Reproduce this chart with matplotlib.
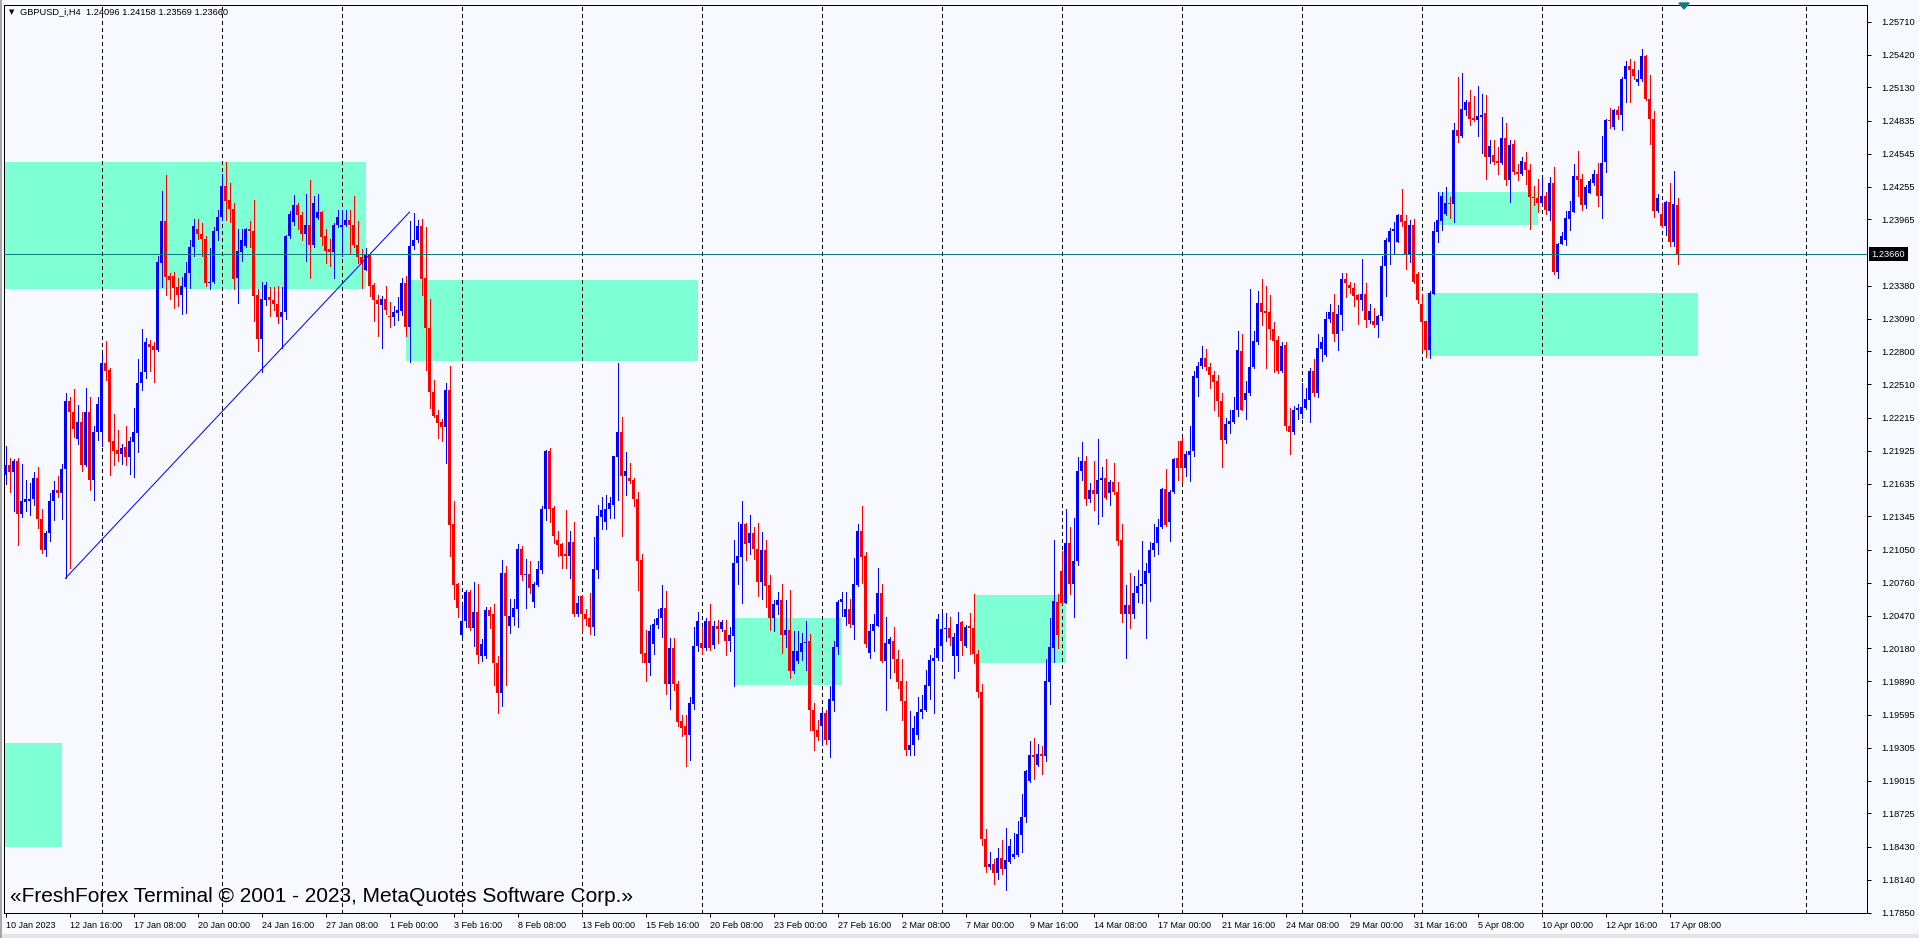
import numpy as np
import matplotlib
matplotlib.use("Agg")
import matplotlib.pyplot as plt
from matplotlib.patches import Rectangle, Polygon
from matplotlib.transforms import blended_transform_factory

plt.rcParams['font.family'] = ['Liberation Sans', 'DejaVu Sans']
plt.rcParams['lines.scale_dashes'] = False

# GBPUSD H4 candles, 10 Jan 2023 00:00 .. 17 Apr 2023 (one value per bar)
opens = [
    1.2171, 1.2180, 1.2174, 1.2183, 1.2137, 1.2147, 1.2148, 1.2150, 1.2168, 1.2132,
    1.2105, 1.2120, 1.2148, 1.2158, 1.2155, 1.2176, 1.2236, 1.2227, 1.2203, 1.2218,
    1.2180, 1.2227, 1.2167, 1.2209, 1.2209, 1.2270, 1.2264, 1.2201, 1.2193, 1.2190,
    1.2196, 1.2187, 1.2200, 1.2208, 1.2252, 1.2262, 1.2287, 1.2285, 1.2281, 1.2358,
    1.2395, 1.2347, 1.2347, 1.2337, 1.2330, 1.2337, 1.2349, 1.2372, 1.2388, 1.2384,
    1.2379, 1.2340, 1.2341, 1.2386, 1.2399, 1.2426, 1.2414, 1.2406, 1.2345, 1.2368,
    1.2373, 1.2388, 1.2386, 1.2330, 1.2291, 1.2325, 1.2328, 1.2325, 1.2322, 1.2310,
    1.2315, 1.2382, 1.2394, 1.2409, 1.2400, 1.2384, 1.2392, 1.2374, 1.2398, 1.2403,
    1.2382, 1.2370, 1.2368, 1.2392, 1.2390, 1.2392, 1.2396, 1.2392, 1.2374, 1.2363,
    1.2352, 1.2366, 1.2339, 1.2325, 1.2321, 1.2326, 1.2311, 1.2310, 1.2314, 1.2316,
    1.2340, 1.2302, 1.2373, 1.2378, 1.2391, 1.2345, 1.2301, 1.2244, 1.2224, 1.2218,
    1.2213, 1.2246, 1.2128, 1.2075, 1.2030, 1.2042, 1.2068, 1.2036, 1.2050, 1.2011,
    1.2011, 1.2052, 1.2048, 1.2005, 1.1979, 1.2085, 1.2038, 1.2046, 1.2053, 1.2106,
    1.2083, 1.2084, 1.2059, 1.2074, 1.2087, 1.2141, 1.2192, 1.2142, 1.2114, 1.2110,
    1.2101, 1.2100, 1.2112, 1.2048, 1.2064, 1.2048, 1.2045, 1.2037, 1.2087, 1.2134,
    1.2130, 1.2141, 1.2145, 1.2187, 1.2209, 1.2170, 1.2168, 1.2167, 1.2150, 1.2096,
    1.2014, 1.2005, 1.2022, 1.2039, 1.2045, 1.2054, 1.1987, 1.2018, 1.1987, 1.1954,
    1.1950, 1.1942, 1.1969, 1.2020, 1.2023, 1.2018, 1.2042, 1.2021, 1.2038, 1.2035,
    1.2034, 1.2025, 1.2029, 1.2093, 1.2099, 1.2128, 1.2111, 1.2120, 1.2106, 1.2077,
    1.2105, 1.2074, 1.2045, 1.2056, 1.2061, 1.2030, 1.2034, 1.1998, 1.2007, 1.2015,
    1.2023, 1.2025, 1.1964, 1.1946, 1.1950, 1.1961, 1.1937, 1.1972, 1.2019, 1.2059,
    1.2046, 1.2053, 1.2039, 1.2074, 1.2122, 1.2100, 1.2014, 1.2033, 1.2038, 1.2067,
    1.2007, 1.2022, 1.2025, 1.2009, 1.1989, 1.1972, 1.1928, 1.1933, 1.1942, 1.1962,
    1.1964, 1.1985, 1.2007, 1.2010, 1.2020, 1.2035, 1.2036, 1.2011, 1.2011, 1.2041,
    1.2020, 1.2038, 1.2036, 1.2013, 1.1980, 1.1850, 1.1825, 1.1828, 1.1820, 1.1833,
    1.1823, 1.1830, 1.1834, 1.1836, 1.1853, 1.1869, 1.1901, 1.1924, 1.1915, 1.1925,
    1.1923, 1.1988, 1.2018, 1.2059, 1.2086, 1.2058, 1.2111, 1.2075, 1.2095, 1.2175,
    1.2183, 1.2150, 1.2158, 1.2154, 1.2167, 1.2168, 1.2155, 1.2165, 1.2156, 1.2114,
    1.2048, 1.2056, 1.2048, 1.2067, 1.2073, 1.2075, 1.2085, 1.2105, 1.2111, 1.2125,
    1.2159, 1.2130, 1.2156, 1.2186, 1.2201, 1.2177, 1.2189, 1.2192, 1.2257, 1.2267,
    1.2274, 1.2266, 1.2259, 1.2254, 1.2236, 1.2202, 1.2216, 1.2218, 1.2228, 1.2280,
    1.2237, 1.2243, 1.2266, 1.2288, 1.2323, 1.2316, 1.2315, 1.2300, 1.2290, 1.2263,
    1.2286, 1.2214, 1.2209, 1.2228, 1.2225, 1.2230, 1.2237, 1.2263, 1.2243, 1.2282,
    1.2277, 1.2309, 1.2315, 1.2295, 1.2312, 1.2344, 1.2339, 1.2336, 1.2330, 1.2325,
    1.2331, 1.2308, 1.2307, 1.2303, 1.2311, 1.2355, 1.2377, 1.2386, 1.2377, 1.2400,
    1.2395, 1.2366, 1.2392, 1.2348, 1.2322, 1.2307, 1.2281, 1.2331, 1.2385, 1.2395,
    1.2401, 1.2411, 1.2410, 1.2475, 1.2470, 1.2493, 1.2500, 1.2486, 1.2484, 1.2487,
    1.2490, 1.2452, 1.2453, 1.2448, 1.2446, 1.2468, 1.2431, 1.2463, 1.2438, 1.2437,
    1.2447, 1.2440, 1.2416, 1.2415, 1.2411, 1.2417, 1.2404, 1.2429, 1.2350, 1.2375,
    1.2378, 1.2397, 1.2403, 1.2435, 1.2432, 1.2409, 1.2420, 1.2429, 1.2437, 1.2417,
    1.2447, 1.2484, 1.2478, 1.2493, 1.2489, 1.2520, 1.2532, 1.2529, 1.2518, 1.2520,
    1.2541, 1.2503, 1.2485, 1.2404, 1.2401, 1.2391, 1.2412, 1.2377, 1.24096,
]
highs = [
    1.2197, 1.2186, 1.2185, 1.2186, 1.2181, 1.2167, 1.2164, 1.2174, 1.2178, 1.2141,
    1.2122, 1.2155, 1.2166, 1.2170, 1.2181, 1.2243, 1.2240, 1.2247, 1.2233, 1.2227,
    1.2248, 1.2240, 1.2214, 1.2240, 1.2278, 1.2289, 1.2265, 1.2225, 1.2211, 1.2198,
    1.2214, 1.2205, 1.2230, 1.2273, 1.2300, 1.2292, 1.2290, 1.2288, 1.2364, 1.2422,
    1.2436, 1.2349, 1.2350, 1.2345, 1.2346, 1.2359, 1.2378, 1.2397, 1.2397, 1.2393,
    1.2382, 1.2371, 1.2390, 1.2405, 1.2437, 1.2447, 1.2429, 1.2411, 1.2388, 1.2388,
    1.2389, 1.2395, 1.2414, 1.2335, 1.2341, 1.2341, 1.2337, 1.2337, 1.2338, 1.2337,
    1.2383, 1.2404, 1.2418, 1.2411, 1.2403, 1.2419, 1.2431, 1.2417, 1.2419, 1.2404,
    1.2388, 1.2379, 1.2393, 1.2405, 1.2405, 1.2405, 1.2405, 1.2417, 1.2395, 1.2370,
    1.2371, 1.2367, 1.2340, 1.2330, 1.2329, 1.2338, 1.2324, 1.2320, 1.2328, 1.2345,
    1.2347, 1.2395, 1.2402, 1.2396, 1.2397, 1.2390, 1.2326, 1.2255, 1.2228, 1.2220,
    1.2252, 1.2267, 1.2148, 1.2076, 1.2056, 1.2070, 1.2070, 1.2077, 1.2075, 1.2026,
    1.2055, 1.2055, 1.2057, 1.2011, 1.2096, 1.2091, 1.2062, 1.2062, 1.2110, 1.2108,
    1.2097, 1.2095, 1.2077, 1.2095, 1.2144, 1.2193, 1.2195, 1.2144, 1.2122, 1.2111,
    1.2140, 1.2122, 1.2130, 1.2064, 1.2065, 1.2053, 1.2067, 1.2116, 1.2145, 1.2152,
    1.2153, 1.2152, 1.2188, 1.2270, 1.2222, 1.2191, 1.2182, 1.2168, 1.2156, 1.2101,
    1.2034, 1.2039, 1.2044, 1.2053, 1.2074, 1.2069, 1.2027, 1.2027, 1.1989, 1.1959,
    1.1959, 1.1975, 1.2037, 1.2050, 1.2037, 1.2045, 1.2057, 1.2042, 1.2043, 1.2043,
    1.2043, 1.2037, 1.2114, 1.2130, 1.2148, 1.2129, 1.2136, 1.2125, 1.2129, 1.2121,
    1.2114, 1.2083, 1.2061, 1.2068, 1.2075, 1.2061, 1.2070, 1.2033, 1.2033, 1.2032,
    1.2042, 1.2031, 1.1970, 1.1955, 1.1963, 1.1964, 1.1985, 1.2025, 1.2061, 1.2068,
    1.2068, 1.2062, 1.2098, 1.2128, 1.2144, 1.2103, 1.2040, 1.2048, 1.2089, 1.2075,
    1.2046, 1.2028, 1.2037, 1.2017, 1.2009, 1.1989, 1.1963, 1.1958, 1.1975, 1.1977,
    1.1999, 1.2012, 1.2018, 1.2048, 1.2049, 1.2049, 1.2046, 1.2032, 1.2050, 1.2042,
    1.2039, 1.2049, 1.2066, 1.2017, 1.1987, 1.1859, 1.1838, 1.1832, 1.1842, 1.1849,
    1.1860, 1.1850, 1.1855, 1.1866, 1.1890, 1.1911, 1.1936, 1.1939, 1.1934, 1.1932,
    1.2009, 1.2045, 1.2114, 1.2066, 1.2104, 1.2141, 1.2125, 1.2133, 1.2187, 1.2200,
    1.2188, 1.2164, 1.2183, 1.2203, 1.2178, 1.2185, 1.2167, 1.2182, 1.2165, 1.2128,
    1.2074, 1.2085, 1.2082, 1.2087, 1.2113, 1.2093, 1.2112, 1.2128, 1.2132, 1.2160,
    1.2176, 1.2158, 1.2186, 1.2201, 1.2205, 1.2192, 1.2214, 1.2263, 1.2271, 1.2285,
    1.2282, 1.2270, 1.2263, 1.2259, 1.2243, 1.2221, 1.2228, 1.2240, 1.2298, 1.2295,
    1.2254, 1.2335, 1.2298, 1.2333, 1.2344, 1.2338, 1.2330, 1.2306, 1.2294, 1.2288,
    1.2288, 1.2230, 1.2232, 1.2234, 1.2252, 1.2248, 1.2265, 1.2273, 1.2295, 1.2293,
    1.2315, 1.2322, 1.2331, 1.2321, 1.2349, 1.2349, 1.2341, 1.2340, 1.2331, 1.2362,
    1.2340, 1.2322, 1.2318, 1.2312, 1.2364, 1.2380, 1.2389, 1.2394, 1.2401, 1.2423,
    1.2400, 1.2396, 1.2397, 1.2350, 1.2331, 1.2307, 1.2333, 1.2394, 1.2421, 1.2421,
    1.2425, 1.2416, 1.2482, 1.2522, 1.2526, 1.2502, 1.2511, 1.2505, 1.2514, 1.2507,
    1.2506, 1.2467, 1.2467, 1.2460, 1.2487, 1.2482, 1.2467, 1.2467, 1.2445, 1.2452,
    1.2456, 1.2445, 1.2426, 1.2432, 1.2434, 1.2421, 1.2434, 1.2443, 1.2376, 1.2385,
    1.2404, 1.2413, 1.2445, 1.2457, 1.2437, 1.2427, 1.2432, 1.2440, 1.2446, 1.2470,
    1.2485, 1.2495, 1.2494, 1.2497, 1.2522, 1.2536, 1.2538, 1.2536, 1.2528, 1.2547,
    1.2542, 1.2524, 1.2492, 1.2419, 1.2410, 1.2413, 1.2429, 1.2439, 1.24158,
]
lows = [
    1.2163, 1.2156, 1.2139, 1.2109, 1.2134, 1.2139, 1.2136, 1.2145, 1.2124, 1.2102,
    1.2100, 1.2113, 1.2131, 1.2152, 1.2132, 1.2080, 1.2089, 1.2205, 1.2198, 1.2175,
    1.2179, 1.2158, 1.2149, 1.2202, 1.2197, 1.2255, 1.2171, 1.2180, 1.2183, 1.2181,
    1.2180, 1.2172, 1.2169, 1.2191, 1.2246, 1.2257, 1.2263, 1.2253, 1.2280, 1.2337,
    1.2330, 1.2326, 1.2318, 1.2320, 1.2313, 1.2314, 1.2336, 1.2364, 1.2379, 1.2364,
    1.2338, 1.2335, 1.2340, 1.2378, 1.2396, 1.2396, 1.2394, 1.2335, 1.2323, 1.2360,
    1.2372, 1.2372, 1.2307, 1.2280, 1.2262, 1.2321, 1.2311, 1.2317, 1.2305, 1.2283,
    1.2309, 1.2380, 1.2392, 1.2388, 1.2378, 1.2360, 1.2345, 1.2372, 1.2397, 1.2374,
    1.2358, 1.2355, 1.2345, 1.2390, 1.2364, 1.2391, 1.2367, 1.2372, 1.2358, 1.2336,
    1.2352, 1.2329, 1.2307, 1.2294, 1.2283, 1.2313, 1.2302, 1.2303, 1.2308, 1.2312,
    1.2294, 1.2271, 1.2370, 1.2377, 1.2330, 1.2264, 1.2230, 1.2222, 1.2204, 1.2201,
    1.2182, 1.2100, 1.2062, 1.2046, 1.2028, 1.2037, 1.2034, 1.2020, 1.2005, 1.2007,
    1.2010, 1.2036, 1.1986, 1.1961, 1.1967, 1.1986, 1.2032, 1.2039, 1.2037, 1.2078,
    1.2054, 1.2067, 1.2055, 1.2073, 1.2085, 1.2131, 1.2130, 1.2111, 1.2100, 1.2089,
    1.2089, 1.2080, 1.2047, 1.2047, 1.2033, 1.2039, 1.2031, 1.2030, 1.2080, 1.2123,
    1.2123, 1.2133, 1.2133, 1.2149, 1.2117, 1.2153, 1.2164, 1.2144, 1.2070, 1.2006,
    1.1989, 1.1995, 1.2013, 1.2036, 1.2028, 1.1978, 1.1965, 1.1981, 1.1950, 1.1941,
    1.1914, 1.1920, 1.1965, 1.2016, 1.2013, 1.2017, 1.2017, 1.2018, 1.2023, 1.2033,
    1.2012, 1.2016, 1.1985, 1.2075, 1.2058, 1.2096, 1.2101, 1.2097, 1.2064, 1.2062,
    1.2055, 1.2034, 1.2033, 1.2048, 1.2014, 1.2019, 1.1992, 1.1996, 1.2005, 1.2008,
    1.1999, 1.1946, 1.1928, 1.1937, 1.1934, 1.1934, 1.1922, 1.1963, 1.2013, 1.2047,
    1.2039, 1.2037, 1.2026, 1.2073, 1.2076, 1.2019, 1.2010, 1.2016, 1.2038, 1.2006,
    1.1964, 1.1992, 1.1997, 1.1983, 1.1955, 1.1924, 1.1924, 1.1924, 1.1938, 1.1957,
    1.1963, 1.1973, 1.1961, 1.2008, 1.2008, 1.2025, 1.2021, 1.1992, 1.1998, 1.2012,
    1.2019, 1.2013, 1.2005, 1.1975, 1.1845, 1.1821, 1.1823, 1.1810, 1.1815, 1.1819,
    1.1805, 1.1829, 1.1833, 1.1835, 1.1838, 1.1865, 1.1900, 1.1903, 1.1914, 1.1907,
    1.1919, 1.1969, 1.2006, 1.2018, 1.2057, 1.2058, 1.2066, 1.2046, 1.2092, 1.2167,
    1.2145, 1.2147, 1.2140, 1.2128, 1.2135, 1.2150, 1.2145, 1.2154, 1.2109, 1.2041,
    1.2010, 1.2036, 1.2045, 1.2059, 1.2058, 1.2027, 1.2060, 1.2100, 1.2101, 1.2124,
    1.2126, 1.2113, 1.2155, 1.2167, 1.2165, 1.2170, 1.2166, 1.2188, 1.2241, 1.2265,
    1.2264, 1.2248, 1.2228, 1.2223, 1.2178, 1.2199, 1.2208, 1.2217, 1.2223, 1.2228,
    1.2220, 1.2242, 1.2265, 1.2287, 1.2303, 1.2265, 1.2291, 1.2262, 1.2261, 1.2262,
    1.2211, 1.2190, 1.2207, 1.2220, 1.2221, 1.2229, 1.2218, 1.2241, 1.2240, 1.2272,
    1.2276, 1.2306, 1.2289, 1.2281, 1.2299, 1.2328, 1.2332, 1.2320, 1.2304, 1.2317,
    1.2302, 1.2305, 1.2302, 1.2293, 1.2308, 1.2329, 1.2357, 1.2366, 1.2377, 1.2391,
    1.2353, 1.2359, 1.2340, 1.2323, 1.2281, 1.2275, 1.2274, 1.2331, 1.2377, 1.2387,
    1.2400, 1.2398, 1.2394, 1.2465, 1.2469, 1.2489, 1.2480, 1.2483, 1.2470, 1.2455,
    1.2432, 1.2446, 1.2445, 1.2437, 1.2445, 1.2427, 1.2412, 1.2437, 1.2431, 1.2436,
    1.2428, 1.2388, 1.2409, 1.2403, 1.2410, 1.2401, 1.2396, 1.2348, 1.2345, 1.2375,
    1.2374, 1.2387, 1.2403, 1.2417, 1.2405, 1.2407, 1.2420, 1.2427, 1.2408, 1.2398,
    1.2438, 1.2477, 1.2476, 1.2485, 1.2475, 1.2500, 1.2500, 1.2520, 1.2515, 1.2519,
    1.2502, 1.2463, 1.2399, 1.2403, 1.2390, 1.2383, 1.2373, 1.2373, 1.23569,
]
closes = [
    1.2180, 1.2174, 1.2183, 1.2137, 1.2148, 1.2150, 1.2150, 1.2168, 1.2132, 1.2105,
    1.2120, 1.2148, 1.2158, 1.2155, 1.2176, 1.2236, 1.2227, 1.2212, 1.2218, 1.2180,
    1.2227, 1.2167, 1.2209, 1.2234, 1.2270, 1.2263, 1.2200, 1.2192, 1.2190, 1.2195,
    1.2187, 1.2201, 1.2209, 1.2252, 1.2262, 1.2288, 1.2284, 1.2281, 1.2359, 1.2395,
    1.2346, 1.2343, 1.2336, 1.2330, 1.2338, 1.2349, 1.2372, 1.2391, 1.2384, 1.2379,
    1.2340, 1.2341, 1.2386, 1.2399, 1.2426, 1.2413, 1.2406, 1.2344, 1.2369, 1.2378,
    1.2388, 1.2386, 1.2329, 1.2291, 1.2326, 1.2339, 1.2325, 1.2322, 1.2310, 1.2315,
    1.2382, 1.2401, 1.2409, 1.2400, 1.2384, 1.2392, 1.2374, 1.2411, 1.2403, 1.2381,
    1.2369, 1.2368, 1.2392, 1.2399, 1.2392, 1.2396, 1.2392, 1.2374, 1.2363, 1.2358,
    1.2366, 1.2338, 1.2325, 1.2322, 1.2326, 1.2317, 1.2310, 1.2315, 1.2317, 1.2340,
    1.2302, 1.2373, 1.2378, 1.2391, 1.2344, 1.2301, 1.2244, 1.2223, 1.2217, 1.2213,
    1.2246, 1.2127, 1.2074, 1.2054, 1.2042, 1.2068, 1.2036, 1.2050, 1.2012, 1.2022,
    1.2052, 1.2047, 1.2005, 1.1979, 1.2085, 1.2047, 1.2047, 1.2054, 1.2106, 1.2083,
    1.2084, 1.2071, 1.2075, 1.2088, 1.2141, 1.2192, 1.2141, 1.2117, 1.2109, 1.2100,
    1.2100, 1.2112, 1.2048, 1.2058, 1.2048, 1.2044, 1.2037, 1.2088, 1.2135, 1.2140,
    1.2141, 1.2146, 1.2188, 1.2209, 1.2170, 1.2175, 1.2166, 1.2150, 1.2095, 1.2013,
    1.2005, 1.2033, 1.2040, 1.2045, 1.2054, 1.1987, 1.2018, 1.1987, 1.1953, 1.1948,
    1.1942, 1.1970, 1.2020, 1.2042, 1.2018, 1.2042, 1.2018, 1.2038, 1.2035, 1.2041,
    1.2025, 1.2030, 1.2093, 1.2100, 1.2128, 1.2110, 1.2120, 1.2106, 1.2077, 1.2105,
    1.2073, 1.2045, 1.2057, 1.2061, 1.2030, 1.2034, 1.1998, 1.2016, 1.2016, 1.2023,
    1.2024, 1.1964, 1.1945, 1.1940, 1.1961, 1.1937, 1.1973, 1.2019, 1.2059, 1.2062,
    1.2053, 1.2040, 1.2075, 1.2122, 1.2099, 1.2022, 1.2033, 1.2040, 1.2067, 1.2007,
    1.2023, 1.2026, 1.2009, 1.1988, 1.1972, 1.1928, 1.1933, 1.1948, 1.1962, 1.1965,
    1.1986, 1.2008, 1.2010, 1.2044, 1.2035, 1.2036, 1.2027, 1.2028, 1.2040, 1.2025,
    1.2037, 1.2036, 1.2013, 1.1980, 1.1850, 1.1825, 1.1828, 1.1820, 1.1833, 1.1823,
    1.1831, 1.1844, 1.1837, 1.1854, 1.1869, 1.1910, 1.1924, 1.1922, 1.1925, 1.1923,
    1.1989, 1.2019, 1.2060, 1.2030, 1.2058, 1.2111, 1.2075, 1.2095, 1.2175, 1.2183,
    1.2150, 1.2158, 1.2154, 1.2167, 1.2168, 1.2151, 1.2165, 1.2156, 1.2113, 1.2048,
    1.2056, 1.2048, 1.2067, 1.2073, 1.2075, 1.2086, 1.2105, 1.2111, 1.2125, 1.2159,
    1.2127, 1.2156, 1.2185, 1.2177, 1.2177, 1.2190, 1.2192, 1.2258, 1.2267, 1.2274,
    1.2266, 1.2259, 1.2253, 1.2236, 1.2202, 1.2216, 1.2219, 1.2228, 1.2281, 1.2228,
    1.2243, 1.2266, 1.2289, 1.2323, 1.2315, 1.2314, 1.2300, 1.2289, 1.2263, 1.2285,
    1.2214, 1.2209, 1.2228, 1.2230, 1.2231, 1.2238, 1.2263, 1.2243, 1.2283, 1.2288,
    1.2309, 1.2315, 1.2295, 1.2313, 1.2344, 1.2340, 1.2336, 1.2329, 1.2325, 1.2331,
    1.2308, 1.2316, 1.2303, 1.2311, 1.2355, 1.2378, 1.2386, 1.2388, 1.2400, 1.2394,
    1.2366, 1.2392, 1.2341, 1.2325, 1.2306, 1.2281, 1.2332, 1.2386, 1.2396, 1.2417,
    1.2411, 1.2410, 1.2475, 1.2470, 1.2494, 1.2500, 1.2485, 1.2484, 1.2488, 1.2489,
    1.2452, 1.2461, 1.2447, 1.2446, 1.2468, 1.2431, 1.2462, 1.2438, 1.2437, 1.2448,
    1.2440, 1.2416, 1.2415, 1.2411, 1.2417, 1.2405, 1.2429, 1.2350, 1.2375, 1.2382,
    1.2398, 1.2404, 1.2435, 1.2431, 1.2409, 1.2425, 1.2430, 1.2437, 1.2417, 1.2446,
    1.2484, 1.2483, 1.2493, 1.2489, 1.2520, 1.2532, 1.2528, 1.2523, 1.2520, 1.2541,
    1.2503, 1.2485, 1.2404, 1.2415, 1.2391, 1.2412, 1.2377, 1.2410, 1.23660,
]

# bottom time labels, one every 16 bars
time_labels = ["10 Jan 2023", "12 Jan 16:00", "17 Jan 08:00", "20 Jan 00:00", "24 Jan 16:00",
               "27 Jan 08:00", "1 Feb 00:00", "3 Feb 16:00", "8 Feb 08:00", "13 Feb 00:00",
               "15 Feb 16:00", "20 Feb 08:00", "23 Feb 00:00", "27 Feb 16:00", "2 Mar 08:00",
               "7 Mar 00:00", "9 Mar 16:00", "14 Mar 08:00", "17 Mar 00:00", "21 Mar 16:00",
               "24 Mar 08:00", "29 Mar 00:00", "31 Mar 16:00", "5 Apr 08:00", "10 Apr 00:00",
               "12 Apr 16:00", "17 Apr 08:00"]
label_step = 16

# week separators (bar index of Monday 00:00)
week_bars = [24, 54, 84, 114, 144, 174, 204, 234, 264, 294, 324, 354, 384, 414, 450]

price_labels = [1.25710, 1.25420, 1.25130, 1.24835, 1.24545, 1.24255, 1.23965, 1.23380,
                1.23090, 1.22800, 1.22510, 1.22215, 1.21925, 1.21635, 1.21345, 1.21050,
                1.20760, 1.20470, 1.20180, 1.19890, 1.19595, 1.19305, 1.19015, 1.18725,
                1.18430, 1.18140, 1.17850]

# rectangle zones: start bar, end bar, upper price, lower price
zone_start = [-5, 100, 182, 242, 355, 358, -5]
zone_end = [90, 173, 209, 265, 423, 383, 14]
zone_top = [1.2447, 1.2343, 1.2045, 1.2065, 1.2332, 1.2421, 1.1935]
zone_bottom = [1.2335, 1.2272, 1.1986, 1.2005, 1.2276, 1.2392, 1.1843]

trend_bars = [15, 101]
trend_prices = [1.2080, 1.2403]

bid = 1.23660
symbol = "GBPUSD_i,H4"

W, H = 1919, 938
BG = '#F8F8FF'
TEAL = '#0E7C7B'
fig = plt.figure(figsize=(W / 100, H / 100), dpi=100, facecolor=BG)
left, right, top, bottom = 4, 1867, 5, 913
ax = fig.add_axes([left / W, 1 - bottom / H, (right - left) / W, (bottom - top) / H])
ax.set_facecolor(BG)

ymin, ymax = 1.17846, 1.25857
ax.set_ylim(ymin, ymax)
ax.set_xlim(-0.375, -0.375 + (right - left) / 4)
px = (ymax - ymin) / (bottom - top)

o = np.array(opens)
h = np.array(highs)
l = np.array(lows)
c = np.array(closes)
x = np.arange(len(o))
col = np.where(c >= o, '#0000FF', '#FF0000')

# zones
for xs, xe, yt, yb in zip(zone_start, zone_end, zone_top, zone_bottom):
    ax.add_patch(Rectangle((xs, yb), xe - xs, yt - yb, facecolor='#7FFFD4',
                           edgecolor='none', zorder=1))

# weekly separators
ax.vlines(week_bars, ymin, ymax, colors='black', linewidth=0.72,
          linestyles=(0, (2.16, 2.16)), zorder=2, antialiased=False)

# candles
ax.vlines(x, l, h, colors=col, linewidth=0.72, zorder=3, antialiased=False)
body_lo = np.minimum(o, c)
body_h = np.maximum(np.abs(c - o), px)
ax.bar(x, body_h, bottom=body_lo, width=0.75, color=col, linewidth=0,
       zorder=4, antialiased=False)

# trend line and bid line
ax.plot(trend_bars, trend_prices, color='#0000FF', linewidth=0.72, zorder=5)
ax.axhline(bid, color=TEAL, linewidth=0.72, zorder=5)

# axes styling
for s in ax.spines.values():
    s.set_color('black')
    s.set_linewidth(0.72)
ax.yaxis.tick_right()
ax.set_yticks(price_labels)
ax.set_yticklabels([f"{p:.5f}" for p in price_labels])
ax.tick_params(axis='y', direction='out', length=3, width=0.72, labelsize=6.7, pad=7,
               colors='black')
ax.set_xticks(np.arange(len(time_labels)) * label_step)
ax.set_xticklabels(time_labels, ha='left')
ax.tick_params(axis='x', direction='out', length=3, width=0.72, labelsize=6.5, pad=3)

# bid price label on the price scale
tr = blended_transform_factory(ax.transAxes, ax.transData)
ax.text(1.0025, bid, f"{bid:.5f}", transform=tr, ha='left', va='center', color='white',
        fontsize=6.7, clip_on=False, zorder=10,
        bbox=dict(boxstyle='square,pad=0.25', facecolor='black', edgecolor='none'))

# header and watermark
fig.text(9 / W, 1 - 12 / H, '\u25bc', fontsize=5, va='center', family='DejaVu Sans')
fig.text(20 / W, 1 - 12 / H,
         f"{symbol}  {o[-1]:.5f} {h[-1]:.5f} {l[-1]:.5f} {c[-1]:.5f}",
         fontsize=6.7, va='center')
fig.text(10 / W, 1 - 896 / H,
         "\u00abFreshForex Terminal \u00a9 2001 - 2023, MetaQuotes Software Corp.\u00bb",
         fontsize=15, va='center', color='black')

# chart shift marker
fig.add_artist(Polygon([(1679 / W, 1 - 3 / H), (1689 / W, 1 - 3 / H), (1684 / W, 1 - 9 / H)],
                       closed=True, transform=fig.transFigure, color=TEAL))

# window frame: grey strip at the bottom and thin grey edge at the left
fig.add_artist(Rectangle((0, 0), 1, 4 / H, transform=fig.transFigure,
                         facecolor='#E4E4E4', edgecolor='none'))
fig.add_artist(Rectangle((0, 0), 2 / W, 1, transform=fig.transFigure,
                         facecolor='#A8A8A8', edgecolor='none'))

fig.savefig('out.png', dpi=100, facecolor=BG)
